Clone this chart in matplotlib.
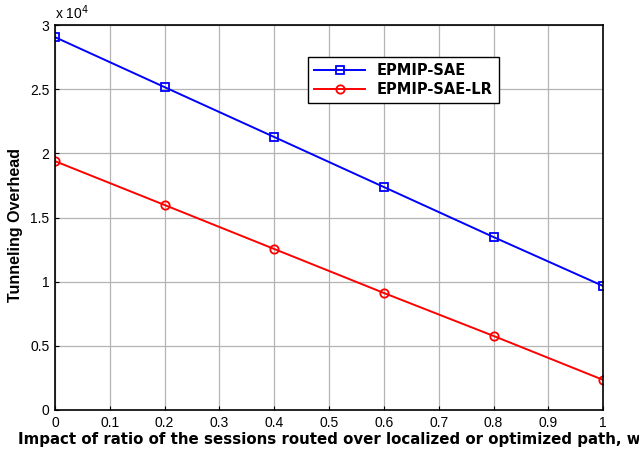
import numpy as np
import matplotlib.pyplot as plt
from matplotlib.ticker import FuncFormatter

# ratio w and tunneling overhead per scheme
w = [0, 0.2, 0.4, 0.6, 0.8, 1.0]
epmip_sae = [29070, 25170, 21280, 17380, 13480, 9660]
epmip_sae_lr = [19400, 15980, 12550, 9120, 5770, 2340]

fig = plt.figure(figsize=(6.39, 4.5), dpi=100)
ax = fig.add_axes([0.086, 0.089, 0.858, 0.855])

ax.plot(w, epmip_sae, color='blue', marker='s', markersize=6, markerfacecolor='none',
        markeredgewidth=1.3, linewidth=1.4, label='EPMIP-SAE')
ax.plot(w, epmip_sae_lr, color='red', marker='o', markersize=6, markerfacecolor='none',
        markeredgewidth=1.3, linewidth=1.4, label='EPMIP-SAE-LR')

ax.set_xlim(0, 1)
ax.set_ylim(0, 30000)
ax.set_xticks(np.arange(0, 1.01, 0.1))
ax.set_yticks(np.arange(0, 30001, 5000))
ax.xaxis.set_major_formatter(FuncFormatter(lambda v, p: '%g' % round(v, 1)))
ax.yaxis.set_major_formatter(FuncFormatter(lambda v, p: '%g' % (v / 1e4)))
ax.tick_params(direction='in', labelsize=10, length=3, pad=4)
for lab in ax.get_xticklabels() + ax.get_yticklabels():
    lab.set_family('Liberation Sans')
ax.grid(True, color='#b4b4b4', linewidth=0.9)
for s in ax.spines.values():
    s.set_linewidth(1.2)

ax.text(0.0, 1.008, 'x 10$^4$', transform=ax.transAxes, fontsize=10,
        family='Liberation Sans', va='bottom', ha='left')

ax.set_xlabel('Impact of ratio of the sessions routed over localized or optimized path, w',
              fontsize=10.85, fontweight='bold', labelpad=2)
ax.set_ylabel('Tunneling Overhead', fontsize=11.5, fontweight='bold',
              family='Liberation Sans')
ax.yaxis.set_label_coords(-0.058, 0.48)

leg = ax.legend(loc='upper left', bbox_to_anchor=(0.462, 0.917), borderaxespad=0,
                fancybox=False, edgecolor='black', framealpha=1,
                prop={'weight': 'bold', 'size': 10.5},
                handlelength=3.5, borderpad=0.4, labelspacing=0.3)
leg.get_frame().set_linewidth(1.0)

fig.savefig('out.png', dpi=100)
